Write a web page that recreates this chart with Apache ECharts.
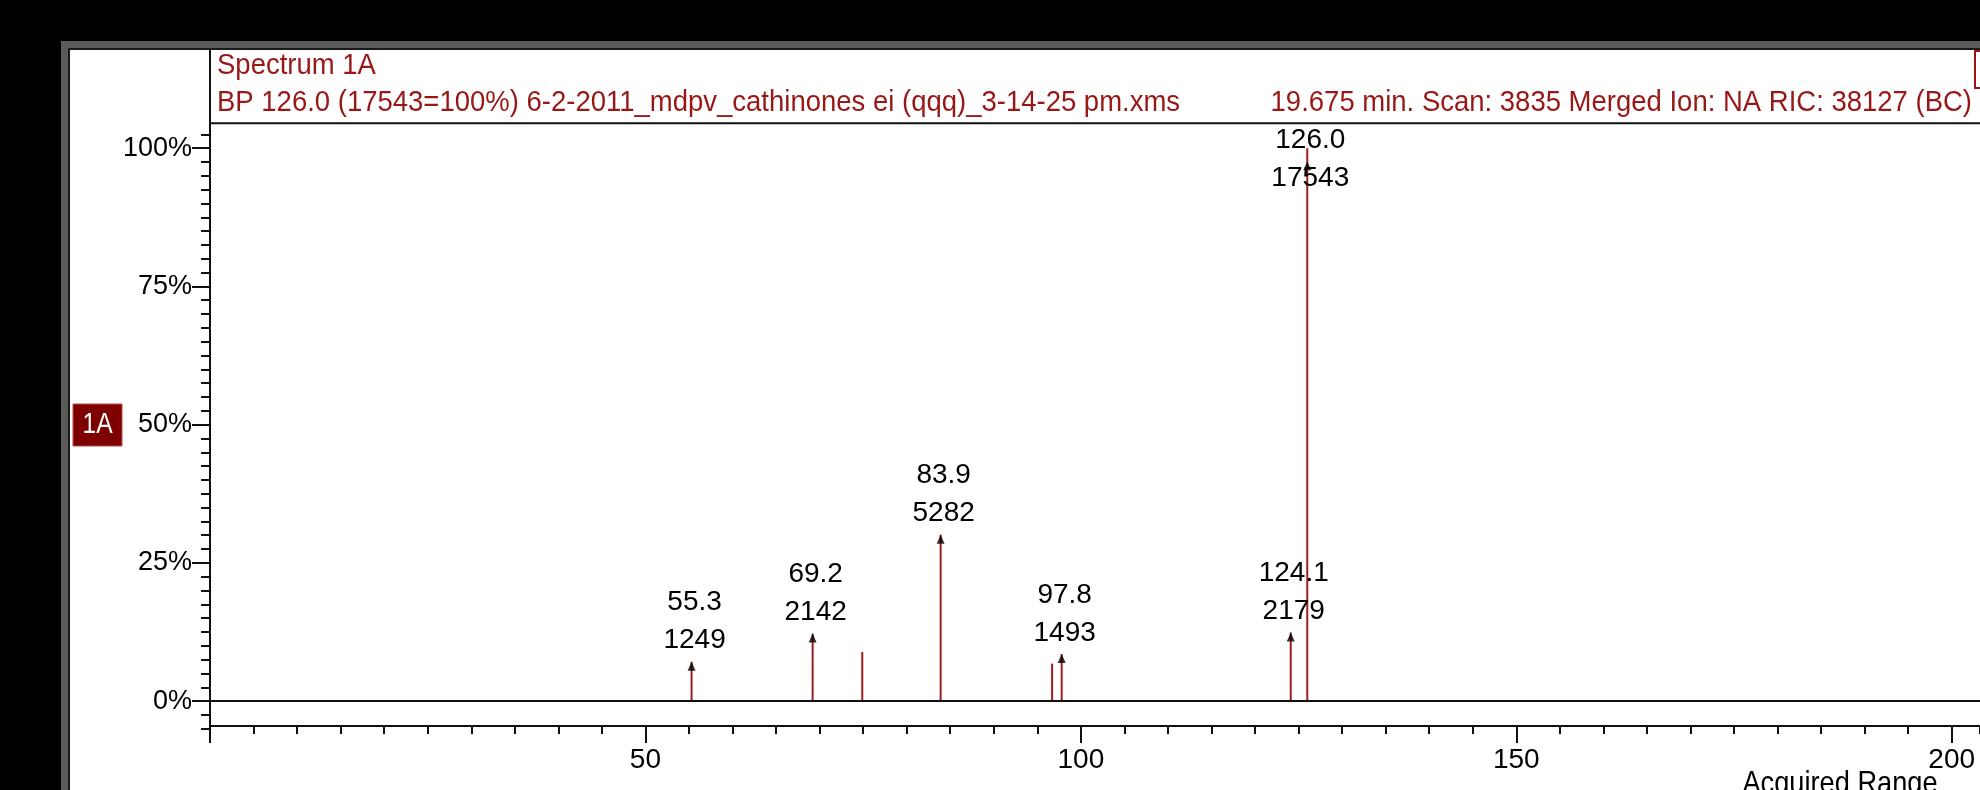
<!DOCTYPE html>
<html>
<head>
<meta charset="utf-8">
<script src="https://cdn.jsdelivr.net/npm/echarts@6/dist/echarts.min.js"></script>
<style>
  html, body { margin: 0; padding: 0; background: #000; }
  #chart { width: 1980px; height: 790px; }
</style>
</head>
<body>
<div id="chart"></div>
<script>
// Header and caption texts
const spectrumTitle = 'Spectrum 1A';
const scanInfoLeft = 'BP 126.0 (17543=100%) 6-2-2011_mdpv_cathinones ei (qqq)_3-14-25 pm.xms';
const scanInfoRight = '19.675 min. Scan: 3835 Merged Ion: NA RIC: 38127 (BC)';
const traceTag = '1A';
const rangeCaption = 'Acquired Range';

// Spectrum peaks: m/z, ion counts, and whether the peak carries an annotation
const peakMz = [55.3, 69.2, 74.9, 83.9, 96.7, 97.8, 124.1, 126.0];
const peakCounts = [1249, 2142, 1560, 5282, 1190, 1493, 2179, 17543];
const peakAnnotated = [true, true, false, true, false, true, true, true];
const basePeakCount = 17543;

// Axis tick labels
const yTickLabels = [0, 25, 50, 75, 100];
const xTickLabels = [50, 100, 150, 200];

// ---- layout ----
const FONT = "'Liberation Sans', Arial, sans-serif";
const HEADER_FONT = "29px " + FONT;
const RED_TEXT = '#981818';
const PEAK_RED = '#a31c1c';
const INK = '#111';

const plotLeft = 210;
const plotTop = 123.3;
const axisY = 726;
const plotWidth = 1770;
const yMin = -4.5, yMax = 104.5;
const pxPerPct = (axisY - plotTop) / (yMax - yMin);
const xMax = 203.25;

const pct = c => c / basePeakCount * 100;

const barData = peakMz.map((mz, i) => {
  const isBase = peakCounts[i] === basePeakCount;
  return {
    value: [mz, pct(peakCounts[i]), peakCounts[i]],
    label: {
      show: peakAnnotated[i],
      offset: [3, isBase ? 51 : 0]
    }
  };
});

const arrowData = peakMz
  .map((mz, i) => ({ mz, c: peakCounts[i], a: peakAnnotated[i] }))
  .filter(p => p.a)
  .map(p => ({
    value: [p.mz, pct(p.c)],
    symbolOffset: [0, p.c === basePeakCount ? 17.5 : 4.5]
  }));

const tickLine = { color: INK, width: 2 };
const plotRect = { left: plotLeft, top: plotTop, width: plotWidth, height: axisY - plotTop };

const chart = echarts.init(document.getElementById('chart'), null, { renderer: 'canvas' });

chart.setOption({
  animation: false,
  backgroundColor: '#000',
  grid: [
    // data area
    plotRect,
    // 0..100 % major ticks
    { left: plotLeft, top: plotTop + (yMax - 100) * pxPerPct, width: 10, height: 100 * pxPerPct },
    // -5..102.5 % minor ticks
    { left: plotLeft, top: plotTop + (yMax - 102.5) * pxPerPct, width: 10, height: 107.5 * pxPerPct },
    // m/z minor ticks every 5
    Object.assign({}, plotRect)
  ],
  xAxis: [
    {
      gridIndex: 0, type: 'value', min: 0, max: xMax, interval: 50,
      axisLine: { show: true, onZero: false, lineStyle: tickLine },
      axisTick: { show: true, length: 17, lineStyle: tickLine },
      axisLabel: {
        show: true, margin: 20, color: '#000', fontFamily: FONT, fontSize: 28,
        showMaxLabel: false,
        formatter: v => (xTickLabels.includes(v) ? String(v) : '')
      },
      splitLine: { show: false }
    },
    { gridIndex: 1, type: 'value', min: 0, max: 1, show: false },
    { gridIndex: 2, type: 'value', min: 0, max: 1, show: false },
    {
      gridIndex: 3, type: 'value', min: 0, max: xMax, interval: 5,
      axisLine: { show: false, onZero: false },
      axisTick: { show: true, length: 8, lineStyle: tickLine },
      axisLabel: { show: false },
      splitLine: { show: false }
    }
  ],
  yAxis: [
    {
      gridIndex: 0, type: 'value', min: yMin, max: yMax,
      axisLine: { show: false }, axisTick: { show: false },
      axisLabel: { show: false }, splitLine: { show: false }
    },
    {
      gridIndex: 1, type: 'value', min: 0, max: 100, interval: 25,
      axisLine: { show: false },
      axisTick: { show: true, length: 18, lineStyle: tickLine },
      axisLabel: {
        show: true, margin: 18, color: '#000', fontFamily: FONT, fontSize: 27,
        formatter: v => (yTickLabels.includes(v) ? v + '%' : '')
      },
      splitLine: { show: false }
    },
    {
      gridIndex: 2, type: 'value', min: -5, max: 102.5, interval: 2.5,
      axisLine: { show: false },
      axisTick: { show: true, length: 9, lineStyle: tickLine },
      axisLabel: { show: false },
      splitLine: { show: false }
    },
    { gridIndex: 3, type: 'value', min: 0, max: 1, show: false }
  ],
  series: [
    {
      type: 'bar',
      xAxisIndex: 0, yAxisIndex: 0,
      barWidth: 2,
      itemStyle: { color: PEAK_RED },
      label: {
        position: 'top', distance: 2,
        color: '#000', fontFamily: FONT, fontSize: 28, lineHeight: 38,
        formatter: p => p.value[0].toFixed(1) + '\n' + p.value[2]
      },
      data: barData,
      markLine: {
        silent: true,
        symbol: ['none', 'none'],
        label: { show: false },
        lineStyle: { color: INK, width: 2, type: 'solid' },
        data: [{ yAxis: 0 }]
      },
      z: 3
    },
    {
      type: 'scatter',
      xAxisIndex: 0, yAxisIndex: 0,
      symbol: 'triangle',
      symbolSize: [8, 9],
      itemStyle: { color: '#000' },
      data: arrowData,
      z: 4
    }
  ],
  graphic: [
    // window frame
    { type: 'rect', z: -20, shape: { x: 61, y: 41, width: 1960, height: 780 }, style: { fill: '#5a5a5a' } },
    { type: 'rect', z: -19, shape: { x: 69, y: 49, width: 1940, height: 770 }, style: { fill: '#fff', stroke: '#1a1a1a', lineWidth: 2 } },
    // header separators
    { type: 'line', z: 10, shape: { x1: plotLeft, y1: 49, x2: plotLeft, y2: axisY }, style: { stroke: INK, lineWidth: 2 } },
    { type: 'line', z: 10, shape: { x1: plotLeft, y1: plotTop, x2: 1985, y2: plotTop }, style: { stroke: INK, lineWidth: 2 } },
    // header texts
    { type: 'text', z: 10, x: 217, y: 66, scaleX: 0.948,
      style: { text: spectrumTitle, font: HEADER_FONT, fill: RED_TEXT, align: 'left', verticalAlign: 'middle' } },
    { type: 'text', z: 10, x: 217, y: 102.5, scaleX: 0.948,
      style: { text: scanInfoLeft, font: HEADER_FONT, fill: RED_TEXT, align: 'left', verticalAlign: 'middle' } },
    { type: 'text', z: 10, x: 1972, y: 102.5, scaleX: 0.948,
      style: { text: scanInfoRight, font: HEADER_FONT, fill: RED_TEXT, align: 'right', verticalAlign: 'middle' } },
    // small marker box at the header's right end
    { type: 'rect', z: 10, shape: { x: 1975, y: 51, width: 20, height: 37 }, style: { fill: '#fff', stroke: '#a01010', lineWidth: 2 } },
    // trace tag
    { type: 'rect', z: 10, shape: { x: 73, y: 404, width: 49, height: 42 }, style: { fill: '#7f0000', stroke: '#b84a4a', lineWidth: 1 } },
    { type: 'text', z: 11, x: 97.5, y: 425, scaleX: 0.85,
      style: { text: traceTag, font: "29px " + FONT, fill: '#fff', align: 'center', verticalAlign: 'middle' } },
    // range caption under the x axis
    { type: 'text', z: 10, x: 1840, y: 784, scaleX: 0.85,
      style: { text: rangeCaption, font: "32px " + FONT, fill: '#000', align: 'center', verticalAlign: 'middle' } }
  ]
});
</script>
</body>
</html>
